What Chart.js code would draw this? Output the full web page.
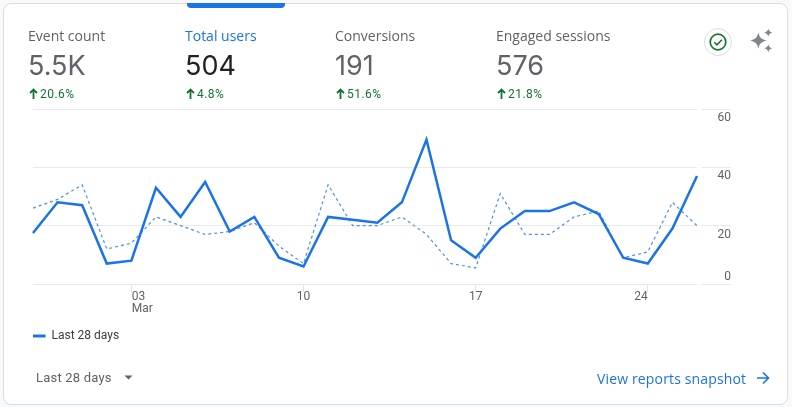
<!DOCTYPE html>
<html><head><meta charset="utf-8">
<script src="https://cdn.jsdelivr.net/npm/chart.js@4/dist/chart.umd.min.js"></script>
<style>
html,body{margin:0;padding:0;background:#f8f9fa;}
body{width:792px;height:407px;position:relative;overflow:hidden;font-family:Roboto,sans-serif;}
#card{position:absolute;left:3px;top:3px;background:#fff;border:1px solid #dadce0;border-radius:8px;box-sizing:content-box;width:783px;height:400px;}
#bar{position:absolute;left:187px;top:3px;width:98px;height:5px;background:#1a73e8;border-radius:0 0 4px 4px;}
canvas{position:absolute;left:0;top:0;}
.t{position:absolute;white-space:nowrap;}
.lab{top:27px;font:14px/18px "Open Sans",Roboto,sans-serif;color:#5f6368;}
.val{top:49px;font:27px/34px Inter,Roboto,sans-serif;color:#5f6368;}
.pct{top:86px;font:12px/16px Roboto,sans-serif;color:#137333;letter-spacing:.45px;padding-left:12px;}
.pct svg{position:absolute;left:1px;top:2px;}
</style></head><body>
<div id="card"></div><div id="bar"></div>
<canvas id="c" width="792" height="407"></canvas>
<div id="kpis"></div>
<div class="t" style="left:36px;top:369px;font:13px/18px Roboto,sans-serif;color:#5f6368;letter-spacing:.2px">Last 28 days</div>
<svg class="t" style="left:124px;top:375px" width="10" height="6"><path d="M0.5 0.5h8l-4 4z" fill="#5f6368"/></svg>
<div class="t" style="left:597px;top:370px;font:14px/18px 'Open Sans',Roboto,sans-serif;color:#1a73e8;letter-spacing:.15px">View reports snapshot</div>
<svg class="t" style="left:756px;top:371px" width="14" height="14" viewBox="0 0 14 14"><path d="M1 7h11M7 1.5 12.5 7 7 12.500" fill="none" stroke="#1a73e8" stroke-width="1.600"/></svg>
<svg class="t" style="left:704px;top:28px" width="28" height="28" viewBox="0 0 28 28"><circle cx="14" cy="14" r="13.500" fill="#fff" stroke="#dadce0"/><circle cx="14" cy="14" r="7.800" fill="none" stroke="#137333" stroke-width="1.700"/><path d="M10.300 14.200l2.600 2.600 5-5" fill="none" stroke="#137333" stroke-width="1.600"/></svg>
<svg class="t" style="left:749px;top:28px" width="25" height="25" viewBox="0 0 24 24" fill="#80868b"><path d="M9 4C10 9 11.500 10.500 17 12 11.500 13.500 10 15 9 20 8 15 6.500 13.500 1 12 6.500 10.500 8 9 9 4z"/><path d="M18.500 0.500C19 2.800 19.700 3.500 22.500 4.500 19.700 5.200 19 6 18.500 8.500 18 6 17.300 5.200 14.500 4.500 17.300 3.500 18 2.800 18.500 0.500z"/><path d="M18.500 15.500C19 17.800 19.700 18.500 22.500 19.500 19.700 20.200 19 21 18.500 23.500 18 21 17.300 20.200 14.500 19.500 17.300 18.500 18 17.800 18.500 15.500z"/></svg>
<script>
const metricNames = ['Event count','Total users','Conversions','Engaged sessions'];
const metricValues = ['5.5K','504','191','576'];
const metricChanges = ['20.6%','4.8%','51.6%','21.8%'];
const days = ['28','29','01','02','03','04','05','06','07','08','09','10','11','12','13','14','15','16','17','18','19','20','21','22','23','24','25','26'];
const labeledDays = ['03','10','17','24'];
const monthLabel = 'Mar';
const current = [17.5,28,27,7,8,33,23,35,18,23,9,6,23,22,21,28,49.5,15,9,19,25,25,28,24,9,7,19,37];
const previous = [26,29,34,12,14,23,20,17,18,21,13,7,34,20,20,23,17,7,5.5,31,17,17,23,25,9,11,28,20];
const yTicks = [0,20,40,60];
const legendLabel = 'Last 28 days';

const kx = [28,185,335,496];
const kpis = document.getElementById('kpis');
metricNames.forEach((n,i)=>{
  kpis.insertAdjacentHTML('beforeend',
   `<div class="t lab" style="left:${kx[i]}px;${i==1?'color:#1a73e8':''}">${n}</div>`+
   `<div class="t val" style="left:${kx[i]}px;${i==1?'color:#202124':''}">${metricValues[i]}</div>`+
   `<div class="t pct" style="left:${kx[i]}px"><svg width="9" height="12" viewBox="0 0 9 12"><path d="M4.500 11V2M1 5 4.500 1.500 8 5" fill="none" stroke="#137333" stroke-width="1.800"/></svg>${metricChanges[i]}</div>`);
});

const placeLabels = {
  id:'placeLabels',
  beforeDraw(chart){
    const xs = chart.scales.x, ys = chart.scales.y;
    xs.getLabelItems(chart.chartArea).forEach((it,i)=>{
      it.options.textAlign = ['left','center','center','right'][i] || 'center';
      if(i===0) it.options.translation[0] += 0.5;
    });
    ys.getLabelItems(chart.chartArea).forEach((it,i)=>{
      it.options.translation[1] += (i===0 ? -7 : 9);
    });
  }
};

new Chart(document.getElementById('c'),{
  type:'line',
  plugins:[placeLabels],
  data:{labels:days,datasets:[
    {label:legendLabel,data:current,borderColor:'#1a73e8',backgroundColor:'#1a73e8',borderWidth:2.5,pointRadius:0,tension:0},
    {label:'Preceding period',data:previous,borderColor:'#4a90ec',backgroundColor:'#4a90ec',borderWidth:1.2,borderDash:[3,3],pointRadius:0,tension:0}
  ]},
  options:{
    responsive:false,animation:false,devicePixelRatio:1,
    layout:{padding:{left:33,right:61,top:109,bottom:55}},
    plugins:{tooltip:{enabled:false},
      legend:{position:'bottom',align:'start',padding:0,
        labels:{boxWidth:12.5,boxHeight:3,padding:0,color:'#3c4043',font:{family:'Roboto',size:12},
          filter:i=>{i.lineWidth=0;return i.datasetIndex===0;}}}},
    scales:{
      x:{type:'category',offset:false,
        afterBuildTicks(s){s.ticks=s.ticks.filter(t=>labeledDays.includes(days[t.value]));},
        afterFit(s){s.height=46;},
        grid:{drawOnChartArea:false,tickLength:8,tickColor:'#e3e5e8',tickWidth:1},
        border:{display:false},
        ticks:{autoSkip:false,maxRotation:0,minRotation:0,padding:-1,color:'#5f6368',font:{family:'Roboto',size:12,lineHeight:1},
          callback(v,i){const d=days[v];return d==='03'?[d,monthLabel]:d;}}
      },
      y:{position:'right',min:0,max:60,
        afterBuildTicks(s){s.ticks=yTicks.map(v=>({value:v}));},
        afterFit(s){s.width=34;},
        grid:{color:'#e8eaed',lineWidth:1,tickLength:34,tickColor:'#e8eaed',tickBorderDash:[0,4,40]},
        border:{display:false},
        ticks:{mirror:false,crossAlign:'far',padding:-34,color:'#5f6368',font:{family:'Roboto',size:12},
          callback:v=>String(v)}
      }
    }
  }
});
</script>
</body></html>
